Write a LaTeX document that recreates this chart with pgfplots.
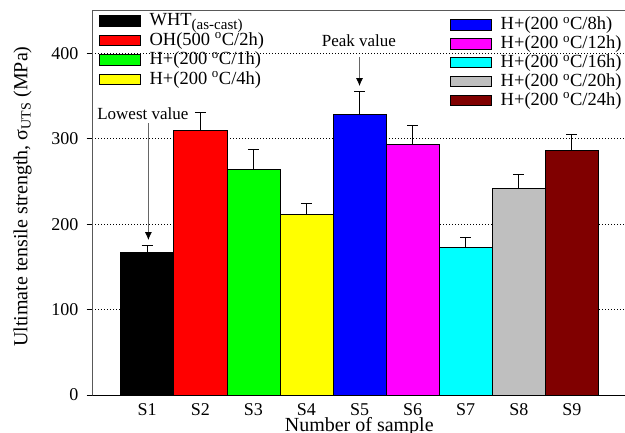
\documentclass[border=0pt]{standalone}
\usepackage{fontspec}
\setmainfont{Liberation Serif}
\usepackage{pgfplots}
\pgfplotsset{compat=1.18}
\usetikzlibrary{arrows.meta}
\definecolor{maroon}{rgb}{0.5,0,0}
\definecolor{mag}{rgb}{1,0,1}
\definecolor{cya}{rgb}{0,1,1}
\definecolor{gre}{rgb}{0,1,0}
\definecolor{yel}{rgb}{1,1,0}
\definecolor{blu}{rgb}{0,0,1}
\definecolor{rd}{rgb}{1,0,0}
\definecolor{lgr}{rgb}{0.75,0.75,0.75}
\pgfplotsset{
  legbox/.style={legend image code/.code={\draw[##1,draw=black,line width=0.6pt] (0pt,-5.2pt) rectangle (41pt,5.2pt);}},
  mybar/.style={draw=black, line width=0.6pt, error bars/.cd, y dir=plus, y explicit,
     error bar style={black,line width=0.8pt},
     error mark options={black,line width=0.8pt,mark size=5.5pt,rotate=90}},
  legaxis/.style={at={(92.5pt,37pt)}, anchor=south west, scale only axis,
     width=533.5pt, height=384.4pt, hide axis, xmin=0, xmax=1, ymin=0, ymax=1,
     legbox, legend cell align=left,
     legend style={draw=none, fill=none, inner sep=0pt,
       font=\fontsize{18.5}{20}\selectfont,
       nodes={inner sep=0pt, text height=14pt, text depth=4pt},
       /tikz/every odd column/.append style={column sep=9.5pt}}}
}
\begin{document}
\begin{tikzpicture}
\useasboundingbox (0,0) rectangle (625pt,432pt);
\begin{axis}[
  at={(92.5pt,37pt)}, anchor=south west,
  scale only axis, width=533.5pt, height=384.4pt,
  xmin=-0.03, xmax=10.02, ymin=0, ymax=450,
  ybar, bar width=1, bar shift=0pt,
  xtick={1,2,3,4,5,6,7,8,9},
  xticklabels={S1,S2,S3,S4,S5,S6,S7,S8,S9},
  ytick={0,100,200,300,400},
  xtick pos=bottom, ytick pos=left,
  xtick style={draw=none},
  ytick style={black, line width=0.8pt},
  tick align=outside, major tick length=6pt,
  /pgf/number format/assume math mode=true,
  tick label style={font=\fontsize{18}{20}\selectfont},
  yticklabel style={inner sep=0pt, anchor=east, xshift=-8pt},
  xticklabel style={inner sep=0pt, anchor=north, yshift=-2.5pt},
  axis line style={black!65, line width=0.8pt},
  ymajorgrids, grid style={black, line width=0.7pt, dash pattern=on 0.8pt off 2.2pt},
  xlabel={Number of sample},
  ylabel={Ultimate tensile strength, σ\textsubscript{UTS} (MPa)},
  label style={font=\fontsize{20}{24}\selectfont},
  xlabel style={at={(axis description cs:0.5,0)}, anchor=north, inner sep=0pt, yshift=-22pt},
  ylabel style={at={(axis description cs:-0.1135,0.516)}, anchor=south, inner sep=0pt},
]
\addplot[fill=black, mybar] coordinates {(1,166.5) +- (0,9)};
\addplot[fill=rd, mybar] coordinates {(2,310) +- (0,21)};
\addplot[fill=gre, mybar] coordinates {(3,264.5) +- (0,23)};
\addplot[fill=yel, mybar] coordinates {(4,211.5) +- (0,12.5)};
\addplot[fill=blu, mybar] coordinates {(5,329) +- (0,26)};
\addplot[fill=mag, mybar] coordinates {(6,293.4) +- (0,22)};
\addplot[fill=cya, mybar] coordinates {(7,172.5) +- (0,12)};
\addplot[fill=lgr, mybar] coordinates {(8,242) +- (0,16)};
\addplot[fill=maroon, mybar] coordinates {(9,287) +- (0,18)};
\draw[black, line width=0.8pt] (axis cs:-0.03,0) -- (axis cs:10.02,0);
\node[anchor=base west, inner sep=0pt, font=\fontsize{17}{20}\selectfont] at (axis cs:0.0565,322.7) {Lowest value};
\draw[black!60, line width=0.8pt, -{Latex[black,length=8pt,width=7pt]}] (axis cs:1.023,318) -- (axis cs:1.023,181.4);
\node[anchor=base west, inner sep=0pt, font=\fontsize{17}{20}\selectfont] at (axis cs:4.288,408.5) {Peak value};
\draw[black!60, line width=0.8pt, -{Latex[black,length=8pt,width=7pt]}] (axis cs:5.0,396) -- (axis cs:5.0,361.7);
\end{axis}
\begin{axis}[legaxis, legend style={at={(0.0109,0.9977)}, anchor=north west, row sep=1.5pt}]
\addlegendimage{fill=black}
\addlegendentry{WHT\raisebox{-3.5pt}{\fontsize{15}{15}\selectfont(as-cast)}}
\addlegendimage{fill=rd}
\addlegendentry{OH(500 \textsuperscript{o}C/2h)}
\addlegendimage{fill=gre}
\addlegendentry{H+(200 \textsuperscript{o}C/1h)}
\addlegendimage{fill=yel}
\addlegendentry{H+(200 \textsuperscript{o}C/4h)}
\end{axis}
\begin{axis}[legaxis, legend style={at={(0.669,0.9867)}, anchor=north west, row sep=0.8pt}]
\addlegendimage{fill=blu}
\addlegendentry{H+(200 \textsuperscript{o}C/8h)}
\addlegendimage{fill=mag}
\addlegendentry{H+(200 \textsuperscript{o}C/12h)}
\addlegendimage{fill=cya}
\addlegendentry{H+(200 \textsuperscript{o}C/16h)}
\addlegendimage{fill=lgr}
\addlegendentry{H+(200 \textsuperscript{o}C/20h)}
\addlegendimage{fill=maroon}
\addlegendentry{H+(200 \textsuperscript{o}C/24h)}
\end{axis}
\end{tikzpicture}
\end{document}
